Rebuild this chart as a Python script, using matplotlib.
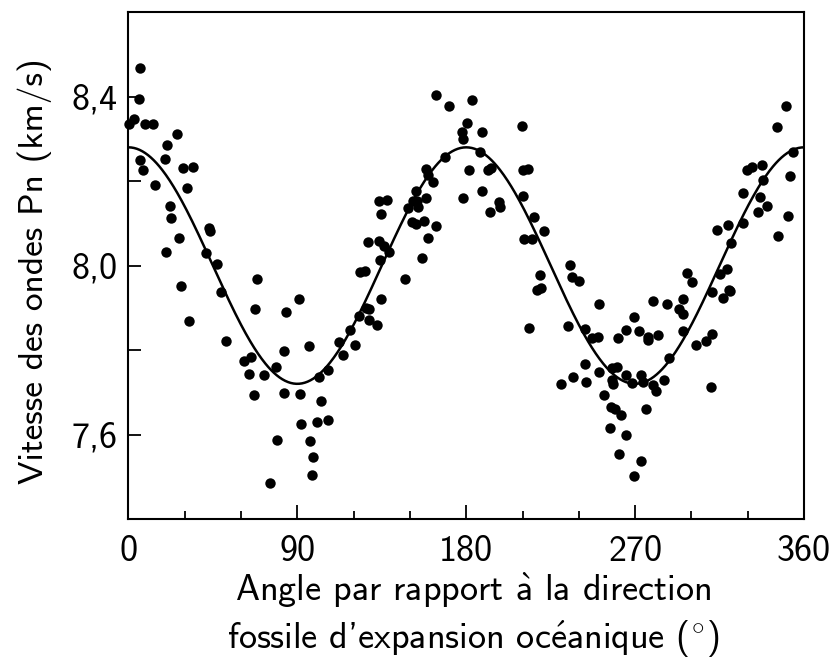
import numpy as np
import matplotlib
matplotlib.use("Agg")
import matplotlib.pyplot as plt
from matplotlib.ticker import FixedLocator

plt.rcParams['font.family'] = ['cmss10', 'DejaVu Sans']
plt.rcParams['axes.formatter.use_mathtext'] = True
plt.rcParams['mathtext.fontset'] = 'cm'

# Observed Pn velocities: azimuth (deg) and velocity (km/s)
angle = [6.18, 5.81, 2.98, 0.48, 8.84, 13.27, 25.73, 20.40, 19.50, 6.18,
         7.62, 29.25, 34.58, 14.17, 31.38, 22.32, 22.54, 43.10, 43.47, 26.80,
         20.03, 41.18, 47.36, 68.51, 27.86, 49.17, 32.29, 67.45, 83.96, 52.0,
         83.06, 61.59, 65.32, 64.41, 72.40, 78.48, 66.76, 82.74, 79.33, 75.44,
         90.89, 96.06, 91.58, 91.96, 100.48, 106.34, 102.77, 96.91, 98.51, 97.98,
         101.70, 106.50, 112.04, 114.17, 117.90, 120.72, 123.02, 126.59, 128.34, 128.34,
         132.29, 134.58, 123.39, 126.05, 127.65, 133.67, 136.33, 139.0, 134.04, 147.36,
         150.93, 153.22, 157.49, 159.46, 163.88, 156.58, 163.88, 170.80, 168.51, 158.55,
         159.78, 162.12, 153.06, 158.55, 151.47, 153.60, 154.45, 148.80, 133.67, 137.93,
         134.42, 183.06, 180.23, 177.89, 178.10, 188.23, 187.48, 181.30, 191.74, 193.18,
         188.23, 178.42, 197.44, 197.98, 192.65, 209.54, 210.39, 212.73, 210.39, 216.25,
         221.42, 210.92, 215.18, 219.29, 217.85, 219.66, 235.27, 236.17, 240.06, 250.88,
         213.58, 234.36, 243.26, 246.83, 250.03, 261.00, 243.26, 230.31, 237.03, 243.79,
         250.88, 257.49, 260.15, 257.49, 258.34, 253.38, 256.95, 259.24, 262.28, 256.58,
         261.53, 264.94, 272.94, 269.37, 275.76, 265.10, 268.30, 272.94, 274.32, 279.65,
         280.93, 285.35, 287.85, 265.10, 269.37, 272.19, 276.66, 276.98, 282.31, 279.33,
         287.11, 293.34, 295.31, 295.63, 295.63, 302.24, 307.72, 311.08, 310.23, 297.76,
         300.43, 310.76, 315.18, 319.07, 316.62, 319.98, 320.51, 350.19, 345.39, 353.91,
         352.48, 338.25, 337.40, 329.73, 332.07, 327.60, 336.49, 340.06, 335.59, 351.25,
         345.92, 327.60, 319.61, 313.75, 320.88]
velocity = [8.469, 8.394, 8.346, 8.335, 8.336, 8.335, 8.311, 8.286, 8.253, 8.249,
            8.226, 8.230, 8.233, 8.190, 8.183, 8.140, 8.112, 8.090, 8.082, 8.065,
            8.031, 8.029, 8.004, 7.969, 7.952, 7.937, 7.868, 7.896, 7.891, 7.822,
            7.798, 7.774, 7.784, 7.744, 7.740, 7.760, 7.694, 7.698, 7.587, 7.486,
            7.920, 7.810, 7.696, 7.625, 7.629, 7.634, 7.679, 7.584, 7.547, 7.503,
            7.737, 7.752, 7.819, 7.788, 7.848, 7.812, 7.880, 7.900, 7.896, 7.870,
            7.859, 7.920, 7.985, 7.987, 8.056, 8.058, 8.046, 8.033, 8.013, 7.969,
            8.103, 8.098, 8.106, 8.066, 8.094, 8.019, 8.405, 8.377, 8.257, 8.229,
            8.215, 8.197, 8.176, 8.159, 8.152, 8.153, 8.138, 8.136, 8.153, 8.155,
            8.122, 8.392, 8.337, 8.316, 8.300, 8.316, 8.268, 8.227, 8.227, 8.231,
            8.176, 8.159, 8.150, 8.138, 8.126, 8.331, 8.227, 8.229, 8.165, 8.115,
            8.082, 8.062, 8.064, 7.978, 7.942, 7.946, 8.002, 7.974, 7.963, 7.908,
            7.852, 7.857, 7.849, 7.829, 7.831, 7.829, 7.767, 7.720, 7.737, 7.724,
            7.749, 7.757, 7.761, 7.729, 7.720, 7.694, 7.666, 7.660, 7.647, 7.616,
            7.555, 7.599, 7.537, 7.501, 7.660, 7.741, 7.722, 7.740, 7.725, 7.718,
            7.702, 7.729, 7.781, 7.847, 7.878, 7.844, 7.830, 7.823, 7.835, 7.917,
            7.909, 7.898, 7.886, 7.920, 7.844, 7.812, 7.822, 7.837, 7.713, 7.983,
            7.961, 7.937, 7.981, 7.991, 7.924, 7.943, 7.939, 8.377, 8.327, 8.270,
            8.211, 8.203, 8.239, 8.226, 8.233, 8.172, 8.162, 8.141, 8.128, 8.118,
            8.070, 8.102, 8.095, 8.084, 8.054]

# Fitted anisotropy model: v = mean + amp * cos(2*theta)
fit_mean = 8.0
fit_amp = 0.28

xtick_vals = [0, 90, 180, 270, 360]
xtick_labels = ['0', '90', '180', '270', '360']
ytick_vals = [7.6, 8.0, 8.4]
ytick_labels = ['7,6', '8,0', '8,4']

fig = plt.figure(figsize=(8.30, 6.59), dpi=100)
ax = fig.add_axes([0.1547, 0.2125, 0.8140, 0.7690])

theta = np.linspace(0, 360, 721)
ax.plot(theta, fit_mean + fit_amp * np.cos(np.deg2rad(2 * theta)),
        color='black', lw=1.8, zorder=2)
ax.plot(angle, velocity, 'o', color='black', ms=7.5, mew=0, zorder=3,
        clip_on=False)

ax.set_xlim(0, 360)
ax.set_ylim(7.4, 8.6)
ax.set_xticks(xtick_vals)
ax.set_xticklabels(xtick_labels)
ax.xaxis.set_minor_locator(FixedLocator([30, 60, 120, 150, 210, 240, 300, 330]))
ax.set_yticks(ytick_vals)
ax.set_yticklabels(ytick_labels)
ax.yaxis.set_minor_locator(FixedLocator([7.8, 8.2]))

ax.tick_params(axis='x', which='major', direction='in', length=10, width=1.3,
               labelsize=26, pad=11.5, top=False)
ax.tick_params(axis='x', which='minor', direction='in', length=6, width=1.3,
               top=False)
ax.tick_params(axis='y', which='both', direction='in', length=9.5, width=1.3,
               labelsize=26, pad=8, right=False)
for s in ax.spines.values():
    s.set_linewidth(1.5)

xlabel = (r"Angle par rapport $\mathsf{\grave{a}}$ la direction" + "\n"
          + r"fossile d'expansion oc$\mathsf{\acute{e}}$anique ($^{\circ}$)")
ax.set_xlabel(xlabel, fontsize=26, linespacing=1.3, labelpad=2)
ax.xaxis.label.set_x(0.511)
ax.set_ylabel("Vitesse des ondes Pn (km/s)", fontsize=25.5, labelpad=14)
ax.yaxis.label.set_y(0.49)

fig.savefig("out.png", dpi=100)
